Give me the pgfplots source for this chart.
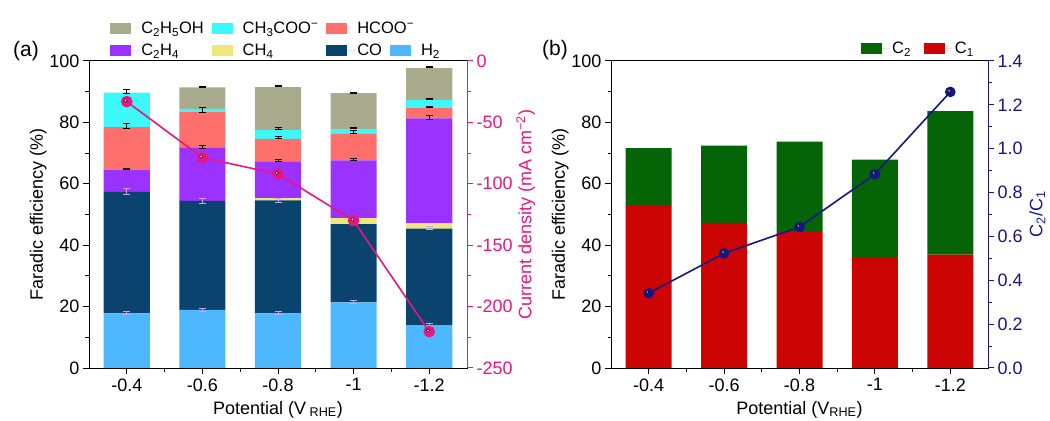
\documentclass[border=0pt]{standalone}
\usepackage{fontspec}
\setmainfont{Liberation Sans}
\usepackage{pgfplots}
\pgfplotsset{compat=1.18}
\definecolor{etohc}{RGB}{170,170,140}
\definecolor{ch3c}{RGB}{60,248,248}
\definecolor{hcooc}{RGB}{255,112,108}
\definecolor{c2h4c}{RGB}{155,50,255}
\definecolor{ch4c}{RGB}{238,232,122}
\definecolor{coc}{RGB}{10,67,110}
\definecolor{h2c}{RGB}{78,184,255}
\definecolor{magc}{RGB}{232,22,128}
\definecolor{grc}{RGB}{5,100,5}
\definecolor{rdc}{RGB}{204,4,4}
\definecolor{nvc}{RGB}{22,22,130}
\definecolor{errl}{RGB}{215,160,225}
\pgfplotsset{
  sqlegend/.style={legend image code/.code={\fill[##1] (0bp,-5.5bp) rectangle (21bp,5.5bp); \path (21bp,0bp) -- (29bp,0bp);}},
  base/.style={
    scale only axis, height=307bp, anchor=south west,
    xmin=-0.5, xmax=4.5,
    font=\fontsize{18bp}{21bp}\selectfont,
    tick align=outside, major tick length=6bp, minor tick length=3.5bp,
    /pgf/number format/assume math mode=true,
    axis line style={line width=1bp},
    every tick/.style={line width=1bp},
    every minor tick/.style={line width=0.9bp},
  },
  barax/.style={base,
    ymin=0, ymax=100, ytick={0,20,...,100}, minor ytick={10,30,50,70,90},
    xtick={0,...,4}, xticklabels={-0.4,-0.6,-0.8,-1,-1.2},
    minor xtick={0.5,1.5,2.5,3.5},
    xtick pos=bottom, ytick pos=left,
    ybar stacked, bar width=0.61,
    ylabel={Faradic efficiency (\%)},
    ylabel shift=-4bp,
    xlabel style={yshift=-3bp},
    xticklabel style={yshift=-1bp},
    legend cell align=left,
    legend style={draw=none, fill=none, font=\fontsize{16.5bp}{19bp}\selectfont,
      /tikz/every even column/.append style={column sep=6bp}, /tikz/row sep=5bp},
  },
  rightax/.style={base,
    axis x line=none, axis y line*=right,
  },
  hilite/.style={only marks, mark=*, mark size=#1, mark options={fill=white, draw=none, fill opacity=0.75, xshift=-1.2bp, yshift=1.2bp}},
}
\begin{document}
\begin{tikzpicture}
\useasboundingbox (0,0) rectangle (1050bp,421bp);
% ---------------- panel (a) bars
\begin{axis}[barax, width=378bp, at={(89bp,53bp)},
  xlabel={Potential (V\textsubscript{ RHE})},
  reverse legend, legend columns=4,
  legend style={at={(0.048,1.14)}, anchor=north west}]
\addplot[fill=h2c, draw=none, sqlegend] coordinates {(0,17.8) (1,18.9) (2,17.8) (3,21.4) (4,14.0)};
\addlegendentry{H\textsubscript{2}}
\addplot[fill=coc, draw=none, sqlegend] coordinates {(0,39.6) (1,35.5) (2,36.8) (3,25.5) (4,31.4)};
\addlegendentry{CO}
\addplot[fill=ch4c, draw=none, sqlegend] coordinates {(0,0) (1,0) (2,0.7) (3,1.9) (4,1.7)};
\addlegendentry{CH\textsubscript{4}}
\addplot[fill=c2h4c, draw=none, sqlegend] coordinates {(0,7.2) (1,17.3) (2,12.0) (3,18.8) (4,34.2)};
\addlegendentry{C\textsubscript{2}H\textsubscript{4}}
\addlegendimage{empty legend}
\addlegendentry{\phantom{H}}
\addplot[fill=hcooc, draw=none, sqlegend] coordinates {(0,13.9) (1,11.8) (2,7.3) (3,8.7) (4,3.5)};
\addlegendentry{\makebox[0pt][l]{HCOO\textsuperscript{−}}}
\addplot[fill=ch3c, draw=none, sqlegend] coordinates {(0,11.2) (1,0.9) (2,2.9) (3,1.5) (4,2.5)};
\addlegendentry{CH\textsubscript{3}COO\textsuperscript{−}}
\addplot[fill=etohc, draw=none, sqlegend] coordinates {(0,0) (1,7.0) (2,14.0) (3,11.7) (4,10.4)};
\addlegendentry{C\textsubscript{2}H\textsubscript{5}OH}
\end{axis}
% error bars (a)
\begin{axis}[base, width=378bp, at={(89bp,53bp)}, ymin=0, ymax=100, hide axis]
\addplot[draw=none, mark=none, error bars/.cd, y dir=both, y explicit,
  error bar style={errl, line width=1bp},
  error mark options={rotate=90, mark size=3.5bp, errl, line width=1bp}]
  coordinates {(0,17.8) +- (0,0.5) (0,57.4) +- (0,1.0) (1,19.0) +- (0,0.5) (1,54.5) +- (0,0.8)
    (2,17.8) +- (0,0.5) (2,54.6) +- (0,0.7) (3,21.5) +- (0,0.5) (4,14.0) +- (0,0.5) (4,45.6) +- (0,0.5)};
\addplot[draw=none, mark=none, error bars/.cd, y dir=both, y explicit,
  error bar style={black, line width=1bp},
  error mark options={rotate=90, mark size=3.5bp, black, line width=1bp}]
  coordinates {(0,64.8) +- (0,0.3) (0,78.8) +- (0,0.7) (0,90.0) +- (0,0.7)
    (1,72.0) +- (0,0.4) (1,84.0) +- (0,0.7) (1,91.6) +- (0,0.2)
    (2,67.5) +- (0,0.3) (2,75.0) +- (0,0.4) (2,78.0) +- (0,0.2) (2,91.8) +- (0,0.2)
    (3,68.0) +- (0,0.3) (3,77.0) +- (0,0.5) (3,78.2) +- (0,0.2) (3,89.7) +- (0,0.2)
    (4,81.5) +- (0,0.7) (4,85.0) +- (0,0.3) (4,87.5) +- (0,0.2) (4,98.0) +- (0,0.2)};
\end{axis}
% current density
\begin{axis}[rightax, width=378bp, at={(89bp,53bp)},
  ymin=-250, ymax=0, ytick={-250,-200,...,0}, minor ytick={-225,-175,-125,-75,-25},
  y axis line style={magc}, ytick style={magc}, minor y tick style={magc},
  yticklabel style={magc},
  ylabel={Current density (mA cm\textsuperscript{−2})}, ylabel style={magc}, ylabel shift=-3bp]
\addplot[magc, line width=1.6bp, mark=*, mark size=5bp, mark options={fill=magc, draw=magc}]
  coordinates {(0,-33.1) (1,-78.7) (2,-92.0) (3,-130.0) (4,-220.4)};
\addplot[hilite=1.7bp] coordinates {(0,-33.1) (1,-78.7) (2,-92.0) (3,-130.0) (4,-220.4)};
\end{axis}
\node[font=\fontsize{21bp}{24bp}\selectfont] at (26bp,370bp) {(a)};
% ---------------- panel (b)
\begin{axis}[barax, width=377bp, at={(611bp,53bp)},
  xlabel={Potential (V\textsubscript{RHE})},
  reverse legend, legend columns=2,
  legend style={at={(0.655,1.075)}, anchor=north west,
    /tikz/every even column/.append style={column sep=11bp}}]
\addplot[fill=rdc, draw=none, sqlegend] coordinates {(0,53.1) (1,47.3) (2,44.6) (3,35.9) (4,36.9)};
\addlegendentry{C\textsubscript{1}}
\addplot[fill=grc, draw=none, sqlegend] coordinates {(0,18.5) (1,25.1) (2,29.1) (3,32.0) (4,46.8)};
\addlegendentry{C\textsubscript{2}}
\end{axis}
\begin{axis}[rightax, width=377bp, at={(611bp,53bp)},
  ymin=0, ymax=1.4, ytick={0,0.2,...,1.41}, minor ytick={0.1,0.3,...,1.31},
  yticklabel style={nvc, /pgf/number format/.cd, fixed, fixed zerofill, precision=1},
  y axis line style={nvc}, ytick style={nvc}, minor y tick style={nvc},
  ylabel={C\textsubscript{2}/C\textsubscript{1}}, ylabel style={nvc}]
\addplot[nvc, line width=1.6bp, mark=*, mark size=4.5bp, mark options={fill=nvc, draw=nvc}]
  coordinates {(0,0.341) (1,0.523) (2,0.643) (3,0.884) (4,1.259)};
\addplot[hilite=1.5bp] coordinates {(0,0.341) (1,0.523) (2,0.643) (3,0.884) (4,1.259)};
\end{axis}
\node[font=\fontsize{21bp}{24bp}\selectfont] at (555bp,371bp) {(b)};
\end{tikzpicture}
\end{document}
